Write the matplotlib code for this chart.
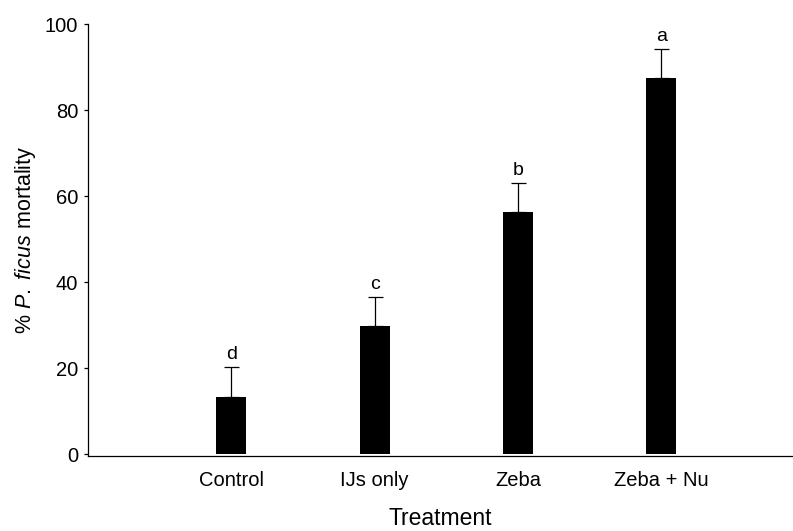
import matplotlib.pyplot as plt
import numpy as np

plt.rcParams["font.family"] = "Liberation Sans"
plt.rcParams["mathtext.fontset"] = "custom"
plt.rcParams["mathtext.rm"] = "Liberation Sans"
plt.rcParams["mathtext.it"] = "Liberation Sans:italic"

treatments = ["Control", "IJs only", "Zeba", "Zeba + Nu"]
mortality = [13.4, 29.9, 56.3, 87.6]
err_upper = [6.9, 6.7, 6.8, 6.7]
letters = ["d", "c", "b", "a"]

fig = plt.figure(figsize=(7.93, 5.31), dpi=100)
ax = fig.add_axes([88 / 793, 1 - 456 / 531, (793 - 88) / 793, (456 - 24.5) / 531])

x = np.arange(1, len(treatments) + 1)
ax.bar(x, mortality, width=0.21, color="black", zorder=2)
ax.errorbar(x, mortality, yerr=[np.zeros(len(x)), err_upper], fmt="none",
            ecolor="black", elinewidth=0.9, capsize=5.4, capthick=0.9, zorder=1)

for xi, m, e, lab in zip(x, mortality, err_upper, letters):
    ax.text(xi, m + e + 1.0, lab, ha="center", va="bottom", fontsize=14)

ax.set_xlim(0, 4.92)
ax.set_ylim(-0.4, 100)
ax.set_yticks([0, 20, 40, 60, 80, 100])
ax.set_xticks(x)
ax.set_xticklabels(treatments, fontsize=14.5)
ax.tick_params(axis="y", labelsize=14.5, length=3, width=0.9, pad=4)
ax.tick_params(axis="x", length=0, pad=11)

ax.spines["top"].set_visible(False)
ax.spines["right"].set_visible(False)
ax.spines["left"].set_linewidth(0.9)
ax.spines["bottom"].set_linewidth(0.9)

ax.set_xlabel("Treatment", fontsize=16.5, labelpad=12)
ax.set_ylabel(r"% $\mathit{P.\ ficus}$ mortality", fontsize=15.5, labelpad=5)

fig.savefig("out.png", dpi=100)
